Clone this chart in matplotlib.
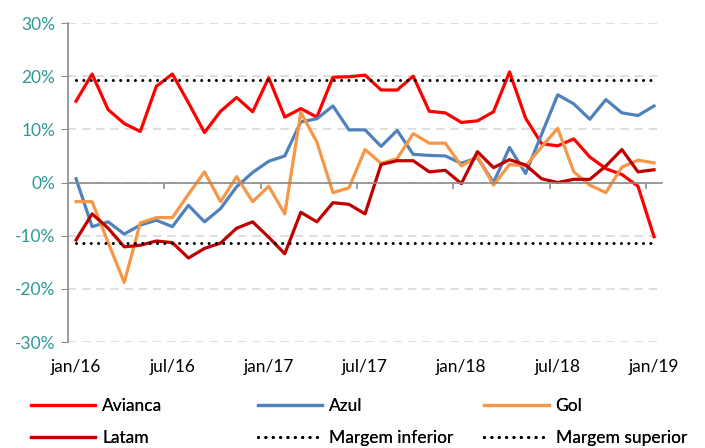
import numpy as np
import matplotlib
matplotlib.use('Agg')
import matplotlib.pyplot as plt
from matplotlib.ticker import FuncFormatter, MultipleLocator

# variacao mensal (%) - jan/16 a jan/19
avianca = [15.3, 20.4, 13.7, 11.1, 9.6, 18.1, 20.4, 15.0, 9.4, 13.4, 16.0, 13.3, 19.7,
           12.3, 13.9, 12.3, 19.8, 19.9, 20.2, 17.4, 17.4, 20.0, 13.4, 13.1, 11.3, 11.6,
           13.3, 20.8, 12.1, 7.3, 6.9, 8.2, 4.8, 2.6, 1.5, -0.7, -10.2]
azul = [0.7, -8.3, -7.4, -9.7, -8.0, -7.1, -8.3, -4.3, -7.4, -4.9, -0.8, 1.9, 4.0,
        5.0, 11.4, 12.0, 14.4, 9.9, 9.9, 6.8, 9.8, 5.3, 5.1, 5.0, 3.6, 4.7,
        0.0, 6.6, 1.7, 9.1, 16.5, 14.8, 11.9, 15.6, 13.1, 12.6, 14.4]
gol = [-3.6, -3.6, -11.3, -18.8, -7.6, -6.6, -6.6, -2.2, 2.0, -3.6, 1.1, -3.6, -0.7,
       -5.9, 13.2, 7.6, -1.9, -1.0, 6.2, 3.6, 4.5, 9.2, 7.4, 7.4, 3.1, 4.9,
       -0.5, 3.4, 3.1, 6.7, 10.2, 2.0, -0.5, -1.9, 2.9, 4.2, 3.7]
latam = [-10.8, -5.9, -8.6, -12.1, -11.8, -11.0, -11.3, -14.2, -12.4, -11.4, -8.6, -7.4, -10.3,
         -13.4, -5.6, -7.4, -3.8, -4.1, -5.9, 3.4, 4.1, 4.1, 2.0, 2.3, -0.2, 5.8,
         2.8, 4.3, 3.3, 0.7, 0.0, 0.6, 0.6, 3.1, 6.2, 2.0, 2.4]
margem_inferior = -11.4
margem_superior = 19.2
rotulos = ['jan/16', 'jul/16', 'jan/17', 'jul/17', 'jan/18', 'jul/18', 'jan/19']

plt.rcParams['font.family'] = ['Lato', 'DejaVu Sans']
plt.rcParams['font.size'] = 12

cinza = '#8C8C8C'
verde = '#2E9A94'

fig = plt.figure(figsize=(7.05, 4.48), dpi=100)
ax = fig.add_axes([0.0965, 0.2366, 0.8426, 0.712])

x = np.arange(len(avianca))
lw = 2.3
l1, = ax.plot(x, avianca, color='#FF0000', lw=lw, label='Avianca')
l2, = ax.plot(x, azul, color='#4F81BD', lw=lw, label='Azul')
l3, = ax.plot(x, gol, color='#F79646', lw=lw, label='Gol')
l4, = ax.plot(x, latam, color='#C00000', lw=lw, label='Latam')
l5, = ax.plot(x, np.full(len(x), margem_inferior), color='black', lw=2.2,
              linestyle=(0, (0.01, 2.4)), dash_capstyle='round', label='Margem inferior')
l6, = ax.plot(x, np.full(len(x), margem_superior), color='black', lw=2.2,
              linestyle=(0, (0.01, 2.4)), dash_capstyle='round', label='Margem superior')

ax.set_xlim(-0.5, len(x) - 0.5)
ax.set_ylim(-30, 30)

# grade tracejada
ax.yaxis.set_major_locator(MultipleLocator(10))
ax.yaxis.grid(True, color='#D9D9D9', linestyle=(0, (5, 3.5)), linewidth=1.2)
ax.set_axisbelow(True)
ax.yaxis.set_major_formatter(FuncFormatter(lambda v, p: f'{v:.0f}%'))
ax.tick_params(axis='y', direction='out', length=5, color=cinza, labelcolor=verde,
               labelsize=12.5, pad=4)

for s in ['top', 'right']:
    ax.spines[s].set_visible(False)
ax.spines['left'].set_color(cinza)
ax.spines['left'].set_linewidth(1.2)
ax.spines['bottom'].set_position(('data', 0))
ax.spines['bottom'].set_color(cinza)
ax.spines['bottom'].set_linewidth(1.2)

ax.set_xticks(x[::6])
ax.set_xticklabels(rotulos)
ax.set_xticks(x[5::6] + 0.5, minor=True)
ax.tick_params(axis='x', which='major', length=0, pad=127, labelsize=12.5)
ax.tick_params(axis='x', which='minor', direction='out', length=4, color=cinza, width=1.2)

# legenda em tres colunas
colunas = [([l1, l4], 0.044), ([l2, l5], 0.366), ([l3, l6], 0.687)]
for hs, xpos in colunas:
    leg = fig.legend(handles=hs, loc='upper left', bbox_to_anchor=(xpos, 0.111),
                     frameon=False, handlelength=3.7, handletextpad=0.4,
                     labelspacing=0.92, borderpad=0, borderaxespad=0, fontsize=12.5)
    fig.add_artist(leg)

fig.savefig('out.png', dpi=100)
